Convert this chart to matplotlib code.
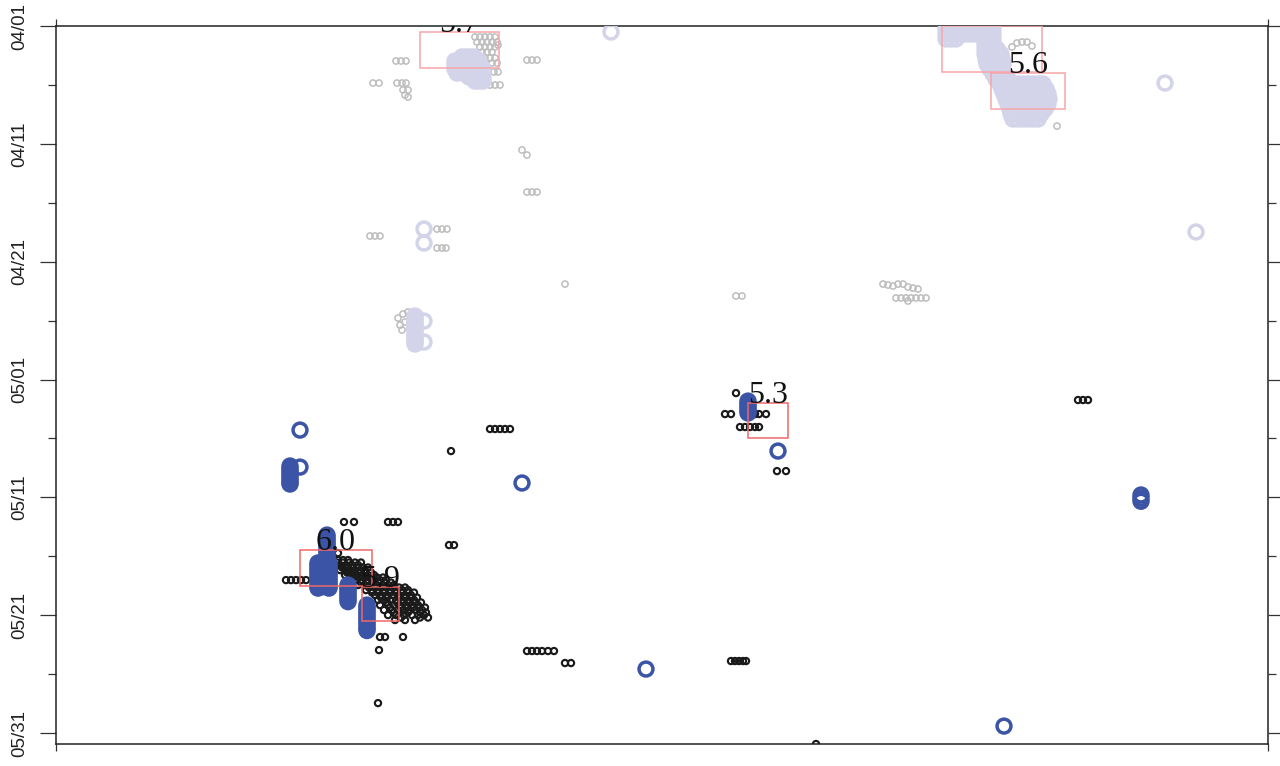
import numpy as np
import matplotlib
matplotlib.use("Agg")
import matplotlib.pyplot as plt
from matplotlib.patches import Rectangle

# x: position along the section (arbitrary units), t: days since 04/01
x_max = 1212
t_max = 60.93

# small events, May (black) -- rows of (day, [x positions])
may_small_rows = [
    (44.73, [282]),
    (45.32, [282, 287, 292]),
    (45.53, [281, 287, 293, 299, 305]),
    (45.74, [279, 284, 290, 296, 302]),
    (45.95, [286, 292, 297, 302, 307, 312]),
    (46.17, [284, 289, 294, 299, 304, 309]),
    (46.38, [291, 297, 303, 309, 315]),
    (46.59, [289, 294, 300, 306, 312, 318]),
    (46.80, [297, 303, 309, 315, 321, 327]),
    (47.02, [230, 235, 240, 245, 250, 294, 300, 306, 312, 318, 324, 330]),
    (47.23, [305, 311, 317, 323, 329, 335]),
    (47.44, [302, 308, 314, 320, 326, 332, 338]),
    (47.65, [313, 319, 325, 331, 337, 343, 349]),
    (47.87, [310, 316, 322, 328, 334, 340, 346, 352]),
    (48.08, [316, 322, 328, 334, 340, 346, 352, 358]),
    (48.29, [319, 325, 331, 337, 343, 349, 355]),
    (48.50, [325, 331, 343, 349, 355, 361]),
    (48.71, [322, 328, 334, 340, 346, 352, 358]),
    (48.92, [331, 341, 347, 353, 359, 365]),
    (49.14, [324, 332, 338, 344, 350, 356, 362]),
    (49.35, [334, 345, 351, 357, 363, 369]),
    (49.56, [328, 336, 342, 348, 354, 360, 366]),
    (49.77, [338, 352, 364, 370]),
    (49.99, [332, 340, 348, 356, 362, 368]),
    (50.20, [345, 364, 372]),
    (50.41, [339, 349, 359]),
    (51.85, [324, 329, 347]),
    (52.96, [323]),
    (57.46, [322]),
    (42.09, [288, 298, 332, 337, 342]),
    (36.07, [395]),
    (34.20, [434, 439, 444, 449, 454]),
    (44.05, [393, 398]),
    (53.04, [471, 476, 481, 486, 492, 498]),
    (54.06, [509, 515]),
    (53.89, [675, 679, 683, 687, 690]),
    (60.93, [760]),
    (31.15, [680]),
    (32.93, [669, 675, 699, 703, 710]),
    (34.03, [684, 689, 694, 699, 703]),
    (37.77, [721, 730]),
    (31.74, [1022, 1027, 1032]),
]

# large events, May (blue)
may_big_rows = [
    (34.29, [244]), (37.43, [244]), (38.78, [466]),
    (37.34, [234]), (37.54, [234]), (37.74, [234]), (37.94, [234]),
    (38.14, [234]), (38.34, [234]), (38.54, [234]), (38.74, [234]),
    (38.87, [234]),
    (43.20, [271]), (43.40, [271]), (43.60, [271]), (43.80, [271]),
    (44.00, [271]), (44.20, [271]), (44.40, [271]), (44.60, [271]),
    (44.80, [271]), (45.00, [271]), (45.20, [271]), (45.32, [271]),
    (45.57, [262, 267, 273]), (45.77, [262, 273]), (45.97, [262, 267, 273]),
    (46.17, [262, 273]), (46.37, [262, 267, 273]), (46.57, [262, 273]),
    (46.77, [262, 267, 273]), (46.97, [262, 273]), (47.17, [262, 267, 273]),
    (47.37, [262, 273]), (47.57, [262, 267, 273]), (47.70, [262, 273]),
    (47.44, [292]), (47.64, [292]), (47.84, [292]), (48.04, [292]),
    (48.24, [292]), (48.44, [292]), (48.64, [292]), (48.85, [292]),
    (49.14, [311]), (49.34, [311]), (49.54, [311]), (49.74, [311]),
    (49.94, [311]), (50.14, [311]), (50.34, [311]), (50.54, [311]),
    (50.74, [311]), (50.94, [311]), (51.14, [311]), (51.30, [311]),
    (31.83, [692]), (32.03, [692]), (32.23, [692]), (32.43, [692]),
    (32.63, [692]), (32.84, [692]),
    (36.07, [722]), (54.57, [590]), (59.41, [948]),
    (39.80, [1085]), (40.07, [1085]), (40.33, [1085]),
]

# small events, April (grey)
apr_small_rows = [
    (4.84, [317, 323, 341, 346, 350]),
    (5.43, [347, 352]), (5.86, [349]), (6.03, [352]),
    (2.97, [340, 345, 350]),
    (2.89, [471, 476, 481]),
    (0.93, [419, 424, 429, 434, 439]),
    (1.36, [421, 426, 431, 436, 441]),
    (1.61, [442]),
    (1.78, [424, 429, 434, 439]),
    (2.21, [426, 431, 436]),
    (2.72, [429, 434, 439]),
    (3.14, [436, 441]),
    (3.90, [438, 442]),
    (5.01, [434, 439, 444]),
    (10.52, [466]), (10.95, [471]),
    (14.09, [471, 476, 481]),
    (17.82, [314, 319, 324]),
    (17.23, [381, 386, 391]),
    (18.84, [381, 386, 390]),
    (21.90, [509, 827, 842, 847]),
    (22.91, [680, 686]),
    (21.98, [832]), (22.07, [837]), (22.15, [852]), (22.24, [857]), (22.32, [862]),
    (23.08, [840, 845, 850, 855, 860, 865, 870]),
    (23.34, [852]),
    (24.27, [352, 357]), (24.44, [347]), (24.78, [342]),
    (25.12, [349]), (25.38, [344]), (25.63, [354]), (25.80, [346]),
    (1.36, [966, 971]), (1.44, [961]), (1.70, [976]), (1.78, [956]),
    (8.49, [1001]),
]

# large events, April (lavender)
apr_big_rows = [
    (0.51, [555]), (4.84, [1109]), (17.48, [1140]),
    (17.23, [368]), (18.42, [368]),
    (24.61, [359]), (24.81, [359]), (25.01, [359]), (25.21, [359]),
    (25.41, [359]), (25.61, [359]), (25.81, [359]), (26.01, [359]),
    (26.21, [359]), (26.41, [359]), (26.61, [359]), (26.81, [359]),
    (26.99, [359]), (25.04, [368]), (26.82, [368]),
    # cluster under the 5.7 box
    (2.63, [406, 410, 414, 418]),
    (2.97, [399, 403, 407, 411, 415, 419, 423]),
    (3.31, [399, 403, 407, 411, 415, 419, 423]),
    (3.65, [399, 403, 407, 411, 415, 419, 423, 427]),
    (3.99, [401, 407, 411, 415, 419, 423, 427]),
    (4.33, [413, 419, 423, 427]),
    (4.67, [419, 423, 427]),
    # cluster at the 5.8 / 5.6 boxes
    (0.25, [890, 894, 898, 902, 906, 910, 914, 918, 922, 926, 930, 934, 937]),
    (0.68, [890, 895, 900, 905, 910, 915, 920, 925, 930, 934, 937]),
    (1.10, [890, 895, 900, 929, 933, 937]),
    (1.53, [929, 933, 937]),
    (1.95, [929, 933, 937, 941]),
    (2.38, [929, 933, 937, 941, 945]),
    (2.80, [930, 934, 938, 942, 946]),
    (3.22, [931, 935, 939, 943, 947]),
    (3.65, [934, 938, 942, 946]),
    (4.07, [937, 941, 945, 949]),
    (4.50, [940, 944, 948, 952]),
    (4.92, [944, 948, 953, 958, 963, 968, 973, 978, 983, 987]),
    (5.35, [946, 951, 956, 961, 966, 971, 976, 981, 986, 990]),
    (5.77, [948, 953, 958, 963, 968, 973, 978, 983, 988, 992]),
    (6.20, [950, 955, 960, 965, 970, 975, 980, 985, 990, 993]),
    (6.62, [952, 957, 962, 967, 972, 977, 982, 987, 992]),
    (7.04, [954, 959, 964, 969, 974, 979, 984, 989]),
    (7.47, [955, 960, 965, 970, 975, 980, 985]),
    (7.89, [957, 962, 967, 972, 977, 982]),
]

# main shocks: boxes and magnitudes
box_x0 = [244, 306, 692, 935, 364, 886]
box_x1 = [316, 343, 732, 1009, 443, 986]
box_t0 = [44.47, 47.61, 32.00, 3.99, 0.51, 0.00]
box_t1 = [47.53, 50.50, 34.97, 7.04, 3.56, 3.90]
box_mag = ['6.0', '5.9', '5.3', '5.6', '5.7', '5.8']

ytick_days = [0, 10, 20, 30, 40, 50, 60]
ytick_labels = ['04/01', '04/11', '04/21', '05/01', '05/11', '05/21', '05/31']
yminor_days = [5, 15, 25, 35, 45, 55]


def flatten(rows):
    xs = [x for t, row in rows for x in row]
    ts = [t for t, row in rows for x in row]
    return xs, ts


fig = plt.figure(figsize=(12.8, 7.66), dpi=100)
ax = fig.add_axes([56 / 1280, 1 - 744 / 766, 1212 / 1280, 718 / 766])

xs, ts = flatten(apr_small_rows)
ax.scatter(xs, ts, s=20, facecolors='none', edgecolors='#bdbdbd',
           linewidths=1.1, zorder=2)
xs, ts = flatten(may_small_rows)
ax.scatter(xs, ts, s=20, facecolors='none', edgecolors='#1a1a1a',
           linewidths=1.55, zorder=2)
xs, ts = flatten(apr_big_rows)
ax.scatter(xs, ts, s=100, facecolors='none', edgecolors='#d3d3e9',
           linewidths=2.5, zorder=3)
xs, ts = flatten(may_big_rows)
ax.scatter(xs, ts, s=100, facecolors='none', edgecolors='#3b54a5',
           linewidths=2.5, zorder=3)

for x0, x1, t0, t1, mag in zip(box_x0, box_x1, box_t0, box_t1, box_mag):
    col = '#f7a6a8' if t0 < 30 else '#f06868'
    ax.add_patch(Rectangle((x0, t0), x1 - x0, t1 - t0, fill=False,
                           edgecolor=col, linewidth=1.1, zorder=4))
    ax.text((x0 + x1) / 2, t0, mag, ha='center', va='baseline',
            fontsize=23, family='Liberation Serif', color='#111111',
            zorder=5, clip_on=True)

ax.set_xlim(0, x_max)
ax.set_ylim(t_max, 0)

ax.set_yticks(ytick_days)
ax.set_yticks(yminor_days, minor=True)
ax.set_yticklabels(ytick_labels, rotation=90, va='center',
                   family='Liberation Sans', fontsize=13.5, color='#222222')
ax.tick_params(axis='y', which='major', direction='out', length=11.5,
               width=0.9, color='#333333', pad=8.5, right=True)
ax.tick_params(axis='y', which='minor', direction='out', length=5.8,
               width=0.9, color='#333333', right=True)

ax.set_xticks([0, x_max])
ax.set_xticklabels(['', ''])
ax.tick_params(axis='x', direction='out', length=5, width=0.9,
               color='#333333', top=True)

for sp in ax.spines.values():
    sp.set_linewidth(1.1)
    sp.set_color('#222222')

fig.savefig('out.png', dpi=100)
